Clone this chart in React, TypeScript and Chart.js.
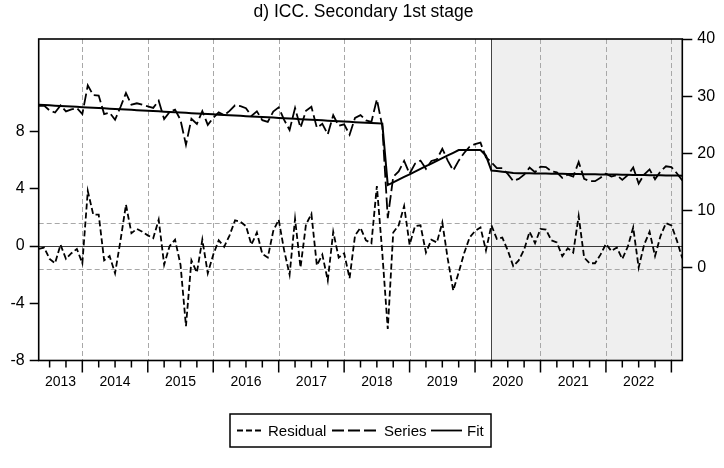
import { useEffect, useRef } from "react";
import { Chart, registerables } from "chart.js";

Chart.register(...registerables);

const FONT = '"Liberation Sans", Arial, Helvetica, sans-serif';

const TITLE = "d) ICC. Secondary 1st stage";
const START_YEAR = 2013;
const START_MONTH = 5;
const yearLabels = ["2013", "2014", "2015", "2016", "2017", "2018", "2019", "2020", "2021", "2022"];
const leftTicks = [-8, -4, 0, 4, 8];
const rightTicks = [0, 10, 20, 30, 40];
const seBand = [1.6, -1.6];
const shadeFrom = "2020M04";
const legendNames = ["Residual", "Series", "Fit"];

// Residual = Series - Fit (left axis)
const residual = [
  -0.2, -0.1, -0.9, -1.2, 0.1, -0.9, -0.5, -0.2, -1.2, 3.85,
  2.2, 2.2, -1.0, -0.7, -1.9, 0.4, 2.9, 0.9, 1.2, 1.0,
  0.75, 0.55, 1.85, -1.3, 0.0, 0.45, -1.3, -5.6, -1.0, -1.85,
  0.45, -1.9, -0.6, 0.4, -0.05, 0.75, 1.8, 1.7, 1.4, 0.1,
  0.95, -0.55, -0.8, 1.05, 1.85, -0.3, -2.0, 1.9, -1.5, 1.5,
  2.25, -1.35, -0.6, -2.4, 1.0, -0.8, -0.5, -2.25, 0.75, 1.28,
  0.4, 0.2, 4.2, -0.5, -5.8, 0.95, 1.45, 2.8, 0.1, 1.4,
  1.45, -0.45, 0.45, 0.25, 1.65, -0.9, -3.1, -1.85, -0.5, 0.6,
  1.05, 1.3, -0.3, 1.45, 0.5, 0.6, -0.3, -1.4, -1.0, -0.25,
  1.0, 0.2, 1.2, 1.15, 0.4, 0.25, -0.7, -0.15, -0.45, 2.1,
  -0.8, -1.2, -1.2, -0.6, 0.15, -0.35, -0.1, -0.9, -0.05, 1.3,
  -1.5, 0.1, 1.0, -0.7, 0.7, 1.6, 1.45, 0.4, -0.85,
];

// Actual series (right axis)
const series = [
  28.3, 28.35, 27.5, 27.14, 28.39, 27.34, 27.69, 27.93, 26.88, 31.88,
  30.18, 30.12, 26.87, 27.12, 25.87, 28.11, 30.56, 28.51, 28.76, 28.5,
  28.2, 27.95, 29.2, 25.99, 27.24, 27.64, 25.84, 21.49, 26.03, 25.13,
  27.38, 24.98, 26.22, 27.17, 26.67, 27.42, 28.41, 28.26, 27.91, 26.56,
  27.35, 25.8, 25.5, 27.3, 28.04, 25.84, 24.09, 27.94, 24.48, 27.43,
  28.13, 24.48, 25.18, 23.32, 26.67, 24.82, 25.07, 23.26, 26.21, 26.69,
  25.76, 25.5, 29.45, 24.7, 8.66, 15.88, 16.85, 18.67, 16.44, 18.21,
  18.73, 17.3, 18.67, 18.94, 20.81, 18.73, 17.0, 18.72, 20.07, 21.17,
  21.62, 21.87, 19.3, 18.45, 17.4, 17.4, 16.4, 15.15, 15.54, 16.27,
  17.51, 16.69, 17.68, 17.61, 16.85, 16.68, 15.72, 16.26, 15.94, 18.48,
  15.56, 15.15, 15.13, 15.72, 16.45, 15.94, 16.18, 15.36, 16.2, 17.53,
  14.72, 16.3, 17.19, 15.47, 16.86, 17.74, 17.58, 16.52, 15.25,
];

// Fitted values (right axis)
const fit = [
  28.5, 28.45, 28.4, 28.34, 28.29, 28.24, 28.19, 28.13, 28.08, 28.03,
  27.98, 27.92, 27.87, 27.82, 27.77, 27.71, 27.66, 27.61, 27.56, 27.5,
  27.45, 27.4, 27.35, 27.29, 27.24, 27.19, 27.14, 27.09, 27.03, 26.98,
  26.93, 26.88, 26.82, 26.77, 26.72, 26.67, 26.61, 26.56, 26.51, 26.46,
  26.4, 26.35, 26.3, 26.25, 26.19, 26.14, 26.09, 26.04, 25.98, 25.93,
  25.88, 25.83, 25.78, 25.72, 25.67, 25.62, 25.57, 25.51, 25.46, 25.41,
  25.36, 25.3, 25.25, 25.2, 14.46, 14.93, 15.4, 15.87, 16.34, 16.81,
  17.28, 17.75, 18.22, 18.69, 19.16, 19.63, 20.1, 20.57, 20.57, 20.57,
  20.57, 20.57, 19.6, 17.0, 16.9, 16.8, 16.7, 16.55, 16.54, 16.52,
  16.51, 16.49, 16.48, 16.46, 16.45, 16.43, 16.42, 16.41, 16.39, 16.38,
  16.36, 16.35, 16.33, 16.32, 16.3, 16.29, 16.28, 16.26, 16.25, 16.23,
  16.22, 16.2, 16.19, 16.17, 16.16, 16.14, 16.13, 16.12, 16.1,
];

const months = residual.map((_, i) => {
  const m = START_MONTH - 1 + i;
  const y = START_YEAR + Math.floor(m / 12);
  return `${y}M${String((m % 12) + 1).padStart(2, "0")}`;
});

const RESID_DASH = [6, 3];
const SERIES_DASH = [12, 4];

function seg(ctx: CanvasRenderingContext2D, x1: number, y1: number, x2: number, y2: number) {
  ctx.beginPath();
  ctx.moveTo(x1, y1);
  ctx.lineTo(x2, y2);
  ctx.stroke();
}

const decor = {
  id: "decor",
  beforeDatasetsDraw(chart: any) {
    const { ctx, chartArea: a, scales } = chart;
    const x = scales.x;
    const yl = scales.yl;
    ctx.save();
    // shaded period
    const sx = x.getPixelForValue(months.indexOf(shadeFrom));
    ctx.fillStyle = "#efefef";
    ctx.fillRect(sx, a.top, a.right - sx, a.bottom - a.top);

    // year grid lines
    ctx.strokeStyle = "#a8a8a8";
    ctx.lineWidth = 1;
    ctx.setLineDash([5, 3]);
    months.forEach((m, i) => {
      if (m.endsWith("M01")) {
        const px = Math.round(x.getPixelForValue(i)) + 0.5;
        seg(ctx, px, a.top, px, a.bottom);
      }
    });
    // +/- standard error band
    seBand.forEach((v) => {
      const py = Math.round(yl.getPixelForValue(v)) + 0.5;
      seg(ctx, a.left, py, a.right, py);
    });
    ctx.setLineDash([]);

    // zero line for residuals
    ctx.strokeStyle = "#3a3a3a";
    const pz = Math.round(yl.getPixelForValue(0)) + 0.5;
    seg(ctx, a.left, pz, a.right, pz);

    // shaded period edge
    ctx.strokeStyle = "#444";
    seg(ctx, Math.round(sx) + 0.5, a.top, Math.round(sx) + 0.5, a.bottom);
    ctx.restore();
  },
  afterDatasetsDraw(chart: any) {
    const { ctx, chartArea: a, scales } = chart;
    const x = scales.x;
    ctx.save();

    // frame
    ctx.strokeStyle = "#000";
    ctx.lineWidth = 1.6;
    ctx.strokeRect(a.left, a.top, a.right - a.left, a.bottom - a.top);

    // quarterly ticks, longer at each year
    ctx.lineWidth = 1.5;
    months.forEach((m, i) => {
      const mm = m.slice(5);
      if (mm === "01" || mm === "04" || mm === "07" || mm === "10") {
        const px = x.getPixelForValue(i);
        seg(ctx, px, a.bottom, px, a.bottom + (mm === "01" ? 12 : 7));
      }
    });

    // year labels centred in each year
    ctx.fillStyle = "#000";
    ctx.font = `14px ${FONT}`;
    ctx.textAlign = "center";
    ctx.textBaseline = "middle";
    yearLabels.forEach((yl) => {
      let i0 = months.indexOf(`${yl}M01`);
      if (i0 < 0) i0 = 0;
      let i1 = months.indexOf(`${Number(yl) + 1}M01`);
      if (i1 < 0) i1 = months.length - 1;
      const cx = (x.getPixelForValue(i0) + x.getPixelForValue(i1)) / 2;
      ctx.fillText(yl, cx, a.bottom + 22);
    });

    // title
    ctx.font = `17.5px ${FONT}`;
    ctx.fillText(TITLE, (a.left + a.right) / 2 + 3, 12);

    // legend
    const bx = 230, by = 414, bw = 261, bh = 33;
    ctx.lineWidth = 1.5;
    ctx.strokeRect(bx, by, bw, bh);
    const ly = by + bh / 2;
    ctx.textAlign = "left";
    ctx.font = `15px ${FONT}`;
    const items = [
      { dash: RESID_DASH, x0: 237, x1: 262, tx: 268 },
      { dash: SERIES_DASH, x0: 332, x1: 378, tx: 384 },
      { dash: [] as number[], x0: 431, x1: 462, tx: 467 },
    ];
    items.forEach((it, k) => {
      ctx.lineWidth = 1.8;
      ctx.setLineDash(it.dash);
      seg(ctx, it.x0, ly, it.x1, ly);
      ctx.setLineDash([]);
      ctx.fillText(legendNames[k], it.tx, ly + 1);
    });
    ctx.restore();
  },
};

export default function App() {
  const ref = useRef<HTMLCanvasElement | null>(null);
  useEffect(() => {
    if (!ref.current) return;
    const tickFont = { family: FONT, size: 16 };
    const chart = new Chart(ref.current, {
      type: "line",
      data: {
        labels: months,
        datasets: [
          { label: "Fit", data: fit, yAxisID: "yr", borderColor: "#000", borderWidth: 2, pointRadius: 0, fill: false },
          { label: "Series", data: series, yAxisID: "yr", borderColor: "#000", borderWidth: 1.8, borderDash: SERIES_DASH, pointRadius: 0, fill: false },
          { label: "Residual", data: residual, yAxisID: "yl", borderColor: "#000", borderWidth: 1.8, borderDash: RESID_DASH, pointRadius: 0, fill: false },
        ],
      },
      options: {
        responsive: false,
        animation: false,
        events: [],
        layout: { padding: { top: 39, bottom: 107.5, left: 0, right: 0 } },
        plugins: { legend: { display: false }, title: { display: false }, tooltip: { enabled: false } },
        scales: {
          x: { type: "category", display: false, offset: false },
          yl: {
            position: "left",
            min: -8,
            max: 14.48,
            afterBuildTicks: (s: any) => { s.ticks = leftTicks.map((v) => ({ value: v })); },
            afterFit: (s: any) => { s.width = 38.7; },
            ticks: { font: tickFont, color: "#000", padding: 5 },
            grid: { drawOnChartArea: false, drawTicks: true, tickLength: 9, tickColor: "#000", tickWidth: 1.5 },
            border: { display: false },
          },
          yr: {
            position: "right",
            min: -16.23,
            max: 40,
            afterBuildTicks: (s: any) => { s.ticks = rightTicks.map((v) => ({ value: v })); },
            afterFit: (s: any) => { s.width = 41.7; },
            ticks: { font: tickFont, color: "#000", padding: 5 },
            grid: { drawOnChartArea: false, drawTicks: true, tickLength: 10, tickColor: "#000", tickWidth: 1.5 },
            border: { display: false },
          },
        },
      },
      plugins: [decor],
    } as any);
    return () => chart.destroy();
  }, []);
  return (
    <div style={{ position: "fixed", left: 0, top: 0, width: 724, height: 468, background: "#fff" }}>
      <canvas ref={ref} width={724} height={468} style={{ display: "block" }} />
    </div>
  );
}
